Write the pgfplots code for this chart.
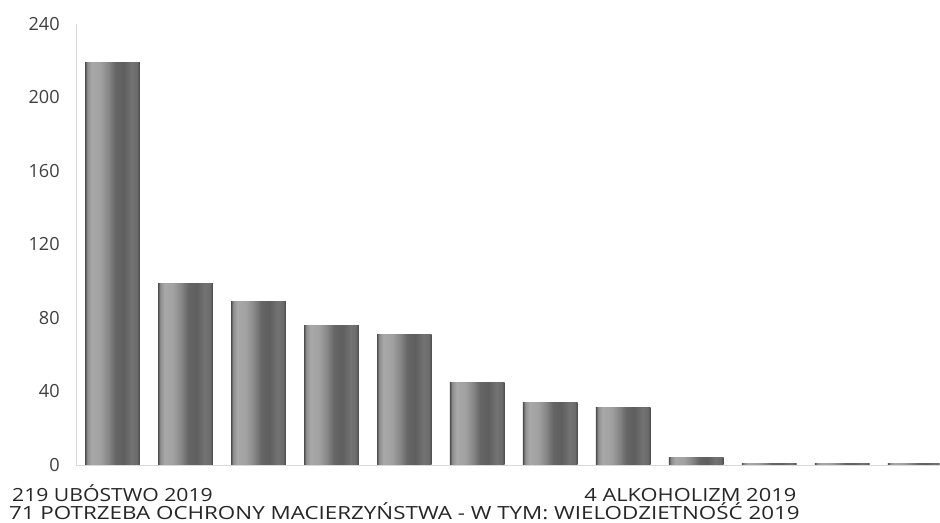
\documentclass[border=0pt]{standalone}
\usepackage{fontspec}
\setmainfont{Open Sans}
\newfontfamily\labA{Open Sans}[FakeStretch=1.168]
\newfontfamily\labB{Open Sans}[FakeStretch=1.234]
\newfontfamily\labC{Open Sans}[FakeStretch=1.206]
\usepackage{pgfplots}
\pgfplotsset{compat=1.18}

% cylinder-like grey shading across each bar (TikZ maps 25bp..75bp onto the bar)
\pgfdeclarehorizontalshading{barshade}{100bp}{%
  color(0bp)=(black!69); color(25bp)=(black!69); color(27bp)=(black!44);
  color(31bp)=(black!34); color(39bp)=(black!37); color(46bp)=(black!47);
  color(52.5bp)=(black!60); color(60bp)=(black!63); color(67.5bp)=(black!55);
  color(72.5bp)=(black!58); color(75bp)=(black!72); color(100bp)=(black!72)}

\pgfplotsset{cyl/.style={ybar, bar width=0.75, bar shift=0pt, draw=none, shading=barshade}}

\begin{document}
\begin{tikzpicture}
\begin{axis}[
    at={(0,0)}, anchor=south west,
    scale only axis,
    width=648pt, height=330.75pt,
    xmin=-0.5, xmax=11.336,
    ymin=0, ymax=240,
    ytick={0,40,...,240},
    xtick={0,8},
    xticklabels={{\labA 219 UBÓSTWO 2019}, {\labC 4 ALKOHOLIZM 2019\hspace*{9pt}}},
    extra x ticks={4},
    extra x tick labels={{\labB 71 POTRZEBA OCHRONY MACIERZYŃSTWA - W TYM: WIELODZIETNOŚĆ 2019}},
    extra x tick style={xticklabel style={yshift=-13.5pt}},
    axis lines*=left,
    axis line style={draw=black!15},
    major tick length=0pt,
    tick style={draw=none},
    yticklabel style={font=\fontsize{13.6}{16}\selectfont, text=black!75,
        inner sep=0pt, anchor=east, xshift=-12pt},
    xticklabel style={font=\fontsize{13.6}{16}\selectfont, text=black!85,
        inner sep=0pt, anchor=base, yshift=-27.5pt},
    /pgf/number format/assume math mode=true,
    clip=true,
]
\addplot[cyl] coordinates {(0,219)};
\addplot[cyl] coordinates {(1,99)};
\addplot[cyl] coordinates {(2,89)};
\addplot[cyl] coordinates {(3,76)};
\addplot[cyl] coordinates {(4,71)};
\addplot[cyl] coordinates {(5,45)};
\addplot[cyl] coordinates {(6,34)};
\addplot[cyl] coordinates {(7,31)};
\addplot[cyl] coordinates {(8,4)};
\addplot[cyl] coordinates {(9,1)};
\addplot[cyl] coordinates {(10,1)};
\addplot[cyl] coordinates {(11,1)};
\end{axis}
\useasboundingbox (-57pt,-43.5pt) rectangle (648pt,348.75pt);
\end{tikzpicture}
\end{document}
